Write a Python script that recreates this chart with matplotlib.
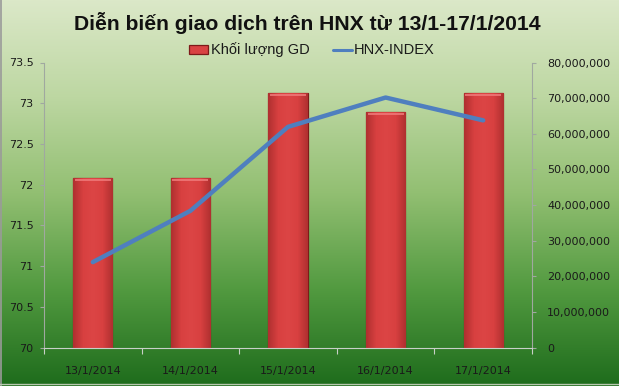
import numpy as np
import matplotlib
matplotlib.use("Agg")
import matplotlib.pyplot as plt
from matplotlib import font_manager
from matplotlib.colors import LinearSegmentedColormap

# Weekly trading data on HNX
dates = ["13/1/2014", "14/1/2014", "15/1/2014", "16/1/2014", "17/1/2014"]
volume = [47_500_000, 47_500_000, 71_400_000, 66_000_000, 71_400_000]
hnx_index = [71.05, 71.68, 72.71, 73.07, 72.79]

left_ticks = [70, 70.5, 71, 71.5, 72, 72.5, 73, 73.5]
left_tick_labels = ["70", "70.5", "71", "71.5", "72", "72.5", "73", "73.5"]
right_ticks = list(range(0, 80_000_001, 10_000_000))

title = "Diễn biến giao dịch trên HNX từ 13/1-17/1/2014"
bar_label = "Khối lượng GD"
line_label = "HNX-INDEX"

installed = {f.name for f in font_manager.fontManager.ttflist}
if "Liberation Sans Narrow" in installed:
    title_family, title_size = "Liberation Sans Narrow", 18.5
else:
    title_family, title_size = "Liberation Sans", 15.2

W, H, DPI = 619, 386, 100
fig = plt.figure(figsize=(W / DPI, H / DPI), dpi=DPI)

# Green vertical gradient filling the whole figure
bg = fig.add_axes([0, 0, 1, 1], zorder=-10)
bg_cmap = LinearSegmentedColormap.from_list(
    "bg", [(0.0, "#dbe8c8"), (0.25, "#bdd7a2"), (0.5, "#92bf72"),
           (0.75, "#529a40"), (1.0, "#1e6c1c")])
bg.imshow(np.linspace(0, 1, 256)[:, None], aspect="auto", cmap=bg_cmap,
          extent=[0, 1, 0, 1], origin="upper")
bg.set_xlim(0, 1)
bg.set_ylim(0, 1)
bg.axis("off")
# thin frame around the chart area
bg.plot([0.001, 0.001], [0, 1], color="#9a9a9a", lw=1.2)
bg.plot([0, 1], [0.004, 0.004], color="#b8c8b0", lw=1.0)

rect = [44 / W, 1 - 347.7 / H, (532 - 44) / W, (347.7 - 62.5) / H]
ax = fig.add_axes(rect)
ax2 = ax.twinx()

x = np.arange(len(dates))

# Volume bars on the right axis
bars = ax2.bar(x, volume, width=0.40, color="#d94343", edgecolor="#7e1a1a",
               linewidth=0.9, label=bar_label, zorder=2)
bar_cmap = LinearSegmentedColormap.from_list(
    "bar", ["#b03030", "#d84040", "#dc4545", "#d84040", "#b03030"])
for p in bars:
    x0, y0 = p.get_x(), p.get_y()
    w, h = p.get_width(), p.get_height()
    im = ax2.imshow(np.linspace(0, 1, 64)[None, :], aspect="auto", cmap=bar_cmap,
                    extent=[x0, x0 + w, y0, y0 + h], zorder=2.1)
    im.set_clip_path(p)
    # light bevel at top of each bar
    ax2.plot([x0 + w * 0.04, x0 + w * 0.96], [y0 + h - 0.5e6] * 2,
             color="#ef7a7a", lw=1.2, zorder=2.2, solid_capstyle="butt")
ax2.set_xlim(-0.5, len(dates) - 0.5)
ax2.set_ylim(0, 80_000_000)
ax2.set_yticks(right_ticks)
ax2.set_yticklabels([f"{v:,}" for v in right_ticks])

# HNX-Index line on the left axis
line, = ax.plot(x, hnx_index, color="#4f7fbf", lw=3.2, solid_capstyle="round",
                solid_joinstyle="round", label=line_label, zorder=5)
ax.set_ylim(70, 73.5)
ax.set_yticks(left_ticks)
ax.set_yticklabels(left_tick_labels)
ax.set_xlim(-0.5, len(dates) - 0.5)
ax.set_xticks(x)
ax.set_xticklabels(dates)
ax.set_xticks(np.arange(-0.5, len(dates)), minor=True)

ax.set_zorder(ax2.get_zorder() + 1)
ax.patch.set_visible(False)
ax2.patch.set_visible(False)

axis_grey = "#a0a8a0"
for a in (ax, ax2):
    for s in a.spines.values():
        s.set_visible(False)
ax.spines["left"].set_visible(True)
ax.spines["left"].set_color(axis_grey)
ax.spines["bottom"].set_visible(True)
ax.spines["bottom"].set_color("#c8d0c8")
ax2.spines["right"].set_visible(True)
ax2.spines["right"].set_color(axis_grey)

ax.tick_params(axis="y", length=3, width=0.8, color=axis_grey, pad=4.5,
               labelcolor="#1a1a1a", labelsize=8)
ax2.tick_params(axis="y", length=3, width=0.8, color=axis_grey, pad=8,
                labelcolor="#1a1a1a", labelsize=8)
ax.tick_params(axis="x", which="major", length=0, pad=13, labelcolor="#1a1a1a",
               labelsize=8)
ax.tick_params(axis="x", which="minor", length=4, width=0.8, color="#c8d0c8")

fig.text(0.497, 1 - 23 / H, title, ha="center", va="center",
         family=[title_family, "DejaVu Sans"], weight="bold",
         size=title_size, color="#111111")

leg = fig.legend([bars, line], [bar_label, line_label], loc="center",
                 bbox_to_anchor=(312 / W, 1 - 50 / H), ncol=2, frameon=False,
                 prop=dict(family="Liberation Sans", size=10.5),
                 handlelength=1.3, handleheight=0.55, handletextpad=0.15,
                 columnspacing=1.6, labelcolor="#1a1a1a")
for h in leg.legend_handles:
    if h.__class__.__name__ == "Line2D":
        h.set_linewidth(2.2)

fig.savefig("out.png", dpi=DPI)
